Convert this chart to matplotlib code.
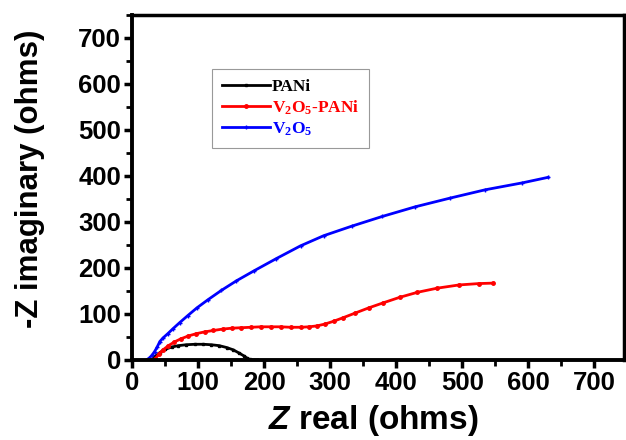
"""
Nyquist plot: PANi, V2O5-PANi and V2O5
"""

import matplotlib
matplotlib.use('Agg')
import matplotlib.pyplot as plt
from matplotlib.ticker import MultipleLocator

plt.rcParams['font.family'] = ['Liberation Sans', 'DejaVu Sans']
plt.rcParams['font.weight'] = 'bold'
plt.rcParams['mathtext.fontset'] = 'custom'
plt.rcParams['mathtext.it'] = 'Liberation Sans:italic:bold'
plt.rcParams['mathtext.bf'] = 'Liberation Serif:bold'
plt.rcParams['mathtext.rm'] = 'Liberation Serif:bold'

# PANi
pani_x = [30, 35, 42, 50, 60, 70, 82, 95, 108, 120, 132, 143, 153, 162, 169, 174, 178, 184, 190]
pani_y = [0, 8, 16, 23, 28, 31, 33, 34, 34, 33, 31, 27, 22, 15, 9, 4, 1, 0, 0]

# V2O5-PANi
comp_x = [35, 40, 47, 55, 64, 74, 85, 97, 110, 123, 137, 151, 165, 180, 195, 210, 225,
          240, 255, 268, 280, 292, 305, 320, 338, 358, 380, 405, 432, 462, 495, 525, 547]
comp_y = [2, 12, 22, 31, 39, 46, 52, 57, 61, 64, 67, 69, 70, 71, 72, 72, 72,
          71, 71, 72, 74, 78, 84, 92, 102, 113, 124, 136, 147, 156, 163, 166, 167]

# V2O5
v2o5_x = [22, 26, 30, 34, 38, 42, 47, 54, 62, 72, 84, 98, 115, 135, 158, 185, 218, 255,
          290, 333, 379, 429, 482, 535, 591, 630]
v2o5_y = [0, 4, 10, 18, 28, 40, 48, 57, 68, 81, 96, 113, 131, 151, 172, 194, 220, 248,
          270, 291, 312, 333, 352, 370, 385, 397]

labels = ['PANi', r'V$_{\mathbf{2}}$O$_{\mathbf{5}}$-PANi', r'V$_{\mathbf{2}}$O$_{\mathbf{5}}$']
colors = ['black', 'red', 'blue']

fig, ax = plt.subplots(figsize=(6.26, 4.4), dpi=100)
fig.subplots_adjust(left=0.211, right=0.997, bottom=0.182, top=0.966)

ax.plot(pani_x, pani_y, color=colors[0], lw=2, marker='s', ms=2, label=labels[0])
ax.plot(comp_x, comp_y, color=colors[1], lw=2, marker='o', ms=2.5, label=labels[1])
ax.plot(v2o5_x, v2o5_y, color=colors[2], lw=2, marker='+', ms=3, label=labels[2])

ax.set_xlim(0, 745)
ax.set_ylim(0, 750)
ax.xaxis.set_minor_locator(MultipleLocator(50))
ax.yaxis.set_minor_locator(MultipleLocator(50))
ax.set_xticks(range(0, 701, 100))
ax.set_yticks(range(0, 701, 100))

ax.tick_params(which='major', direction='out', length=6, width=2.5, labelsize=18.5, pad=2)
ax.tick_params(which='minor', direction='out', length=4, width=2)
for s in ['left', 'bottom']:
    ax.spines[s].set_linewidth(2.8)
for s in ['top', 'right']:
    ax.spines[s].set_linewidth(2.5)

ax.set_xlabel(r'$Z$ real (ohms)', fontsize=24, fontweight='bold')
ax.set_ylabel('-Z imaginary (ohms)', fontsize=22.5, fontweight='bold')
ax.xaxis.set_label_coords(0.49, -0.125)
ax.yaxis.set_label_coords(-0.178, 0.525)

leg = ax.legend(loc='upper left', bbox_to_anchor=(0.163, 0.843), borderaxespad=0,
                fancybox=False, edgecolor='gray', handlelength=2.8, handletextpad=0.1,
                labelspacing=0.2, borderpad=0.55,
                prop={'family': 'Liberation Serif', 'weight': 'bold', 'size': 12.5})
leg.get_frame().set_linewidth(0.8)
for txt, c in zip(leg.get_texts(), colors):
    txt.set_color(c)

plt.savefig('out.png', dpi=100)
